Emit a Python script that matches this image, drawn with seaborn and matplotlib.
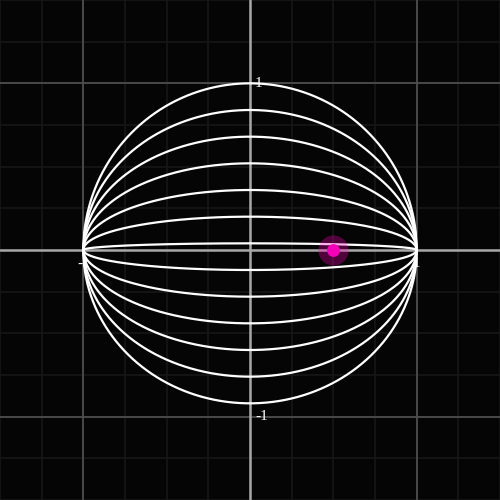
import numpy as np
import pandas as pd
import matplotlib
matplotlib.use("Agg")
import matplotlib.pyplot as plt
import seaborn as sns

# vertical scale of each half-ellipse y = b * sqrt(1 - x^2)
scales = [1.0, 0.84, 0.68, 0.52, 0.36, 0.2, 0.04, -0.12, -0.28, -0.44, -0.6, -0.76, -0.92]
point_x = [0.5]
point_y = [0.0]
x_ticks = [-1, 1]
y_ticks = [-1, 1]
tick_labels = {-1: "-1", 1: "1"}

xs = np.linspace(-1, 1, 400)
rows = []
for i, b in enumerate(scales):
    for x in xs:
        rows.append({"curve": i, "x": x, "y": b * np.sqrt(max(0.0, 1 - x * x))})
df = pd.DataFrame(rows)

sns.set_style("dark", {"axes.facecolor": "#050505", "figure.facecolor": "#050505"})

fig = plt.figure(figsize=(5, 5), dpi=100)
ax = fig.add_axes([0, 0, 1, 1])
ax.set_xlim(-1.5, 1.5)
ax.set_ylim(-1.5, 1.5)

# grid: fine lines every 0.25, brighter ones at the integers
for v in np.arange(-1.5, 1.51, 0.25):
    ax.axvline(v, color="#171717", lw=1.2, zorder=0)
    ax.axhline(v, color="#171717", lw=1.2, zorder=0)
for v in [-1, 1]:
    ax.axvline(v, color="#4d4d4d", lw=1.3, zorder=0.5)
    ax.axhline(v, color="#4d4d4d", lw=1.3, zorder=0.5)
ax.axvline(0, color="#a8a8a8", lw=1.8, zorder=1)
ax.axhline(0, color="#a8a8a8", lw=1.8, zorder=1)

# tick labels sit on the axes
for v in x_ticks:
    ax.text(v, -0.04, tick_labels[v], color="white", fontsize=11,
            family="Liberation Serif", ha="center", va="top", zorder=1.5)
for v in y_ticks:
    ax.text(0.03, v, tick_labels[v], color="white", fontsize=11,
            family="Liberation Serif", ha="left", va="center", zorder=1.5)

sns.lineplot(data=df, x="x", y="y", units="curve", estimator=None,
             color="white", lw=1.6, sort=False, ax=ax, zorder=2)

# the moving point with its glow
ax.scatter(point_x, point_y, s=470, color="#ff00bb", alpha=0.3, lw=0, zorder=3)
ax.scatter(point_x, point_y, s=85, color="#f400b8", lw=0, zorder=4)

ax.set_xticks([])
ax.set_yticks([])
ax.set_xlabel("")
ax.set_ylabel("")
for s in ax.spines.values():
    s.set_visible(False)

fig.savefig("out.png", dpi=100, facecolor="#050505")
